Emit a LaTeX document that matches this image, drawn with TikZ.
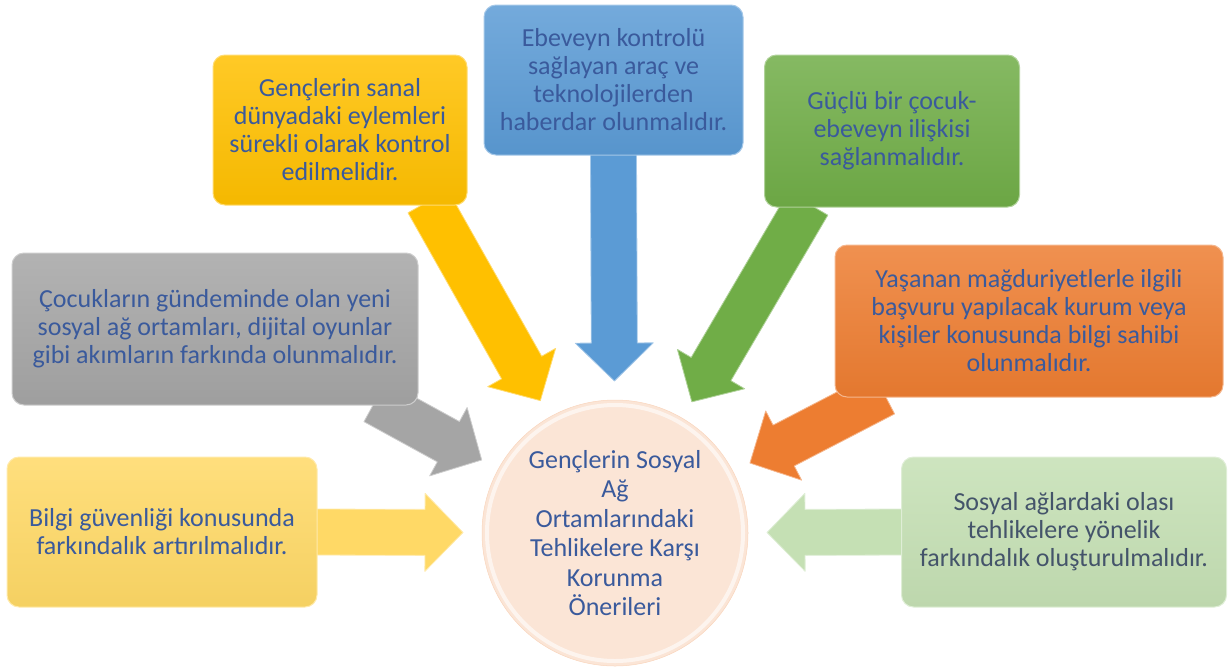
\documentclass[tikz,border=0pt]{standalone}
\usepackage{fontspec}
\setmainfont{Carlito}
\usetikzlibrary{calc,backgrounds}

\definecolor{txtblue}{HTML}{3A5A9C}
\definecolor{slate}{HTML}{44546A}
\definecolor{goldy}{HTML}{FFC000}
\definecolor{skyb}{HTML}{5B9BD5}
\definecolor{leaf}{HTML}{70AD47}
\definecolor{carrot}{HTML}{ED7D31}
\definecolor{mint}{HTML}{C5E0B4}
\definecolor{ash}{HTML}{A5A5A5}
\definecolor{sand}{HTML}{FFD966}
\definecolor{peach}{HTML}{FBE5D6}

% block arrow from start (#1) to tip (#2), colour #3
\newcommand{\blockarrow}[3]{%
  \coordinate (hb) at ($(#2)!38pt!(#1)$);
  \filldraw[fill=#3, draw=#3!55!white, line width=0.8pt, line join=round]
    ($(#1)!23pt!90:(#2)$) -- ($(hb)!23pt!90:(#2)$) -- ($(hb)!39pt!90:(#2)$) -- (#2)
    -- ($(hb)!39pt!-90:(#2)$) -- ($(hb)!23pt!-90:(#2)$) -- ($(#1)!23pt!-90:(#2)$) -- cycle;
}

\begin{document}
\begin{tikzpicture}[x=1pt, y=-1pt]
\tikzset{
    advice/.style={rectangle, rounded corners=12pt, top color=#1!85!white, bottom color=#1!96!black, draw=#1!55!white, line width=1pt, text=txtblue, align=center, inner sep=0pt, font=\fontsize{26}{28}\selectfont},
    hub/.style={circle, minimum size=266pt, fill=peach, draw=peach!85!carrot, line width=0.5pt, text=txtblue, align=center, inner sep=0pt, font=\fontsize{26}{29.5}\selectfont}
}
\useasboundingbox (0,0) rectangle (1228,670);

% nodes
\node[hub] (ctr) at (615,533) {Gençlerin Sosyal\\Ağ\\Ortamlarındaki\\Tehlikelere Karşı\\Korunma\\Önerileri};
\draw[white, line width=4pt, opacity=0.6] (ctr.center) circle (128pt);

\node[advice=goldy, minimum width=254pt, minimum height=150pt] (gen) at (340,130) {Gençlerin sanal\\dünyadaki eylemleri\\sürekli olarak kontrol\\edilmelidir.};
\node[advice=skyb, minimum width=259pt, minimum height=150pt] (ebe) at (613.5,80) {Ebeveyn kontrolü\\sağlayan araç ve\\teknolojilerden\\haberdar olunmalıdır.};
\node[advice=leaf, minimum width=255pt, minimum height=152pt] (guc) at (892,131) {Güçlü bir çocuk-\\ebeveyn ilişkisi\\sağlanmalıdır.};
\node[advice=carrot, minimum width=388pt, minimum height=152pt] (yas) at (1029,321) {Yaşanan mağduriyetlerle ilgili\\başvuru yapılacak kurum veya\\kişiler konusunda bilgi sahibi\\olunmalıdır.};
\node[advice=mint, text=slate, minimum width=325pt, minimum height=150pt] (sos) at (1064,532) {Sosyal ağlardaki olası\\tehlikelere yönelik\\farkındalık oluşturulmalıdır.};
\node[advice=ash, minimum width=406pt, minimum height=152pt] (coc) at (215,329) {Çocukların gündeminde olan yeni\\sosyal ağ ortamları, dijital oyunlar\\gibi akımların farkında olunmalıdır.};
\node[advice=sand, minimum width=310pt, minimum height=150pt] (bil) at (162,532) {Bilgi güvenliği konusunda\\farkındalık artırılmalıdır.};

% arrow ends
\coordinate (genS) at ([xshift=88pt, yshift=4pt]gen.south);
\coordinate (ebeS) at ([yshift=4pt]ebe.south);
\coordinate (gucS) at ([xshift=-84pt, yshift=4pt]guc.south);
\coordinate (yasS) at ([xshift=-145pt, yshift=4pt]yas.south);
\coordinate (sosS) at ([xshift=4pt]sos.west);
\coordinate (cocS) at ([xshift=160pt, yshift=4pt]coc.south);
\coordinate (bilS) at ([xshift=-4pt]bil.east);
\foreach \n in {gen,ebe,guc,yas,sos,coc,bil}
    \coordinate (\n T) at ($(ctr)!152pt!(\n S)$);

% arrows
\begin{scope}[on background layer]
\blockarrow{genS}{genT}{goldy}
\blockarrow{ebeS}{ebeT}{skyb}
\blockarrow{gucS}{gucT}{leaf}
\blockarrow{yasS}{yasT}{carrot}
\blockarrow{sosS}{sosT}{mint}
\blockarrow{cocS}{cocT}{ash}
\blockarrow{bilS}{bilT}{sand}
\end{scope}

\end{tikzpicture}
\end{document}
